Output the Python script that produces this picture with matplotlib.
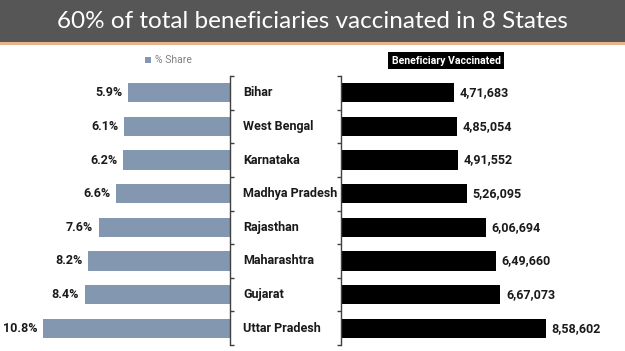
import matplotlib
matplotlib.use("Agg")
import matplotlib.pyplot as plt
from matplotlib.transforms import blended_transform_factory
from matplotlib.patches import Rectangle

states = ["Bihar", "West Bengal", "Karnataka", "Madhya Pradesh", "Rajasthan",
          "Maharashtra", "Gujarat", "Uttar Pradesh"]
share = [5.9, 6.1, 6.2, 6.6, 7.6, 8.2, 8.4, 10.8]
vaccinated = [471683, 485054, 491552, 526095, 606694, 649660, 667073, 858602]
share_labels = ["5.9%", "6.1%", "6.2%", "6.6%", "7.6%", "8.2%", "8.4%", "10.8%"]
vacc_labels = ["4,71,683", "4,85,054", "4,91,552", "5,26,095", "6,06,694",
               "6,49,660", "6,67,073", "8,58,602"]
title = "60% of total beneficiaries vaccinated in 8 States"

W, H = 625, 351
fig = plt.figure(figsize=(W / 100, H / 100), dpi=100)
fig.patch.set_facecolor("white")

LBL_FONT = "Roboto"
LBL_SIZE = 9.0

def fx(px):
    return px / W

def fy(py):
    return 1 - py / H

# Title band
fig.patches.append(Rectangle((0, fy(42)), 1, 42 / H, transform=fig.transFigure,
                             facecolor="#565656", edgecolor="none", zorder=0))
fig.patches.append(Rectangle((0, fy(45)), 1, 3 / H, transform=fig.transFigure,
                             facecolor="#E8B48C", edgecolor="none", zorder=0))
fig.text(0.5, fy(22), title, color="white", fontsize=17.5, family="Lato",
         ha="center", va="center")

top_px, bot_px = 76, 345
n = len(states)
pos = list(range(n))
bar_h = 0.57

# Left axes (% share)
lx0, lx1 = 10, 230
axL = fig.add_axes([fx(lx0), fy(bot_px), fx(lx1 - lx0), (bot_px - top_px) / H])
axL.barh(pos, share, height=bar_h, color="#8497B0")
axL.set_xlim((lx1 - lx0) / 17.3, 0)
axL.set_ylim(n - 0.5, -0.5)
for s in ["left", "top", "bottom"]:
    axL.spines[s].set_visible(False)
axL.spines["right"].set_color("#404040")
axL.spines["right"].set_linewidth(1.0)
axL.yaxis.tick_right()
axL.set_yticks([i - 0.5 for i in range(n + 1)])
axL.set_yticklabels([])
axL.tick_params(axis="y", direction="out", length=3, color="#404040", width=1.0)
axL.set_xticks([])
axL.set_facecolor("none")
for i, (v, lab) in enumerate(zip(share, share_labels)):
    axL.annotate(lab, (v, i), xytext=(-4, 0), textcoords="offset points",
                 ha="right", va="center", fontsize=LBL_SIZE, fontweight="bold",
                 family=LBL_FONT, color="#1a1a1a")

# Right axes (beneficiaries)
rx0, rx1 = 341, 620
axR = fig.add_axes([fx(rx0), fy(bot_px), fx(rx1 - rx0), (bot_px - top_px) / H])
axR.barh(pos, vaccinated, height=bar_h, color="black")
axR.set_xlim(0, (rx1 - rx0) / 2.39e-4)
axR.set_ylim(n - 0.5, -0.5)
for s in ["right", "top", "bottom"]:
    axR.spines[s].set_visible(False)
axR.spines["left"].set_color("#404040")
axR.spines["left"].set_linewidth(1.0)
axR.set_yticks([i - 0.5 for i in range(n + 1)])
axR.set_yticklabels([])
axR.tick_params(axis="y", direction="out", length=3, color="#404040", width=1.0)
axR.set_xticks([])
axR.set_facecolor("none")
for i, (v, lab) in enumerate(zip(vaccinated, vacc_labels)):
    axR.annotate(lab, (v, i), xytext=(4, 0), textcoords="offset points",
                 ha="left", va="center", fontsize=LBL_SIZE, fontweight="bold",
                 family=LBL_FONT, color="#1a1a1a")

# State names
tr = blended_transform_factory(fig.transFigure, axR.transData)
for i, st in enumerate(states):
    fig.text(fx(243), i, st, transform=tr, ha="left", va="center",
             fontsize=LBL_SIZE, fontweight="bold", family=LBL_FONT, color="#1a1a1a")

# Legends
fig.patches.append(Rectangle((fx(145), fy(63)), 6 / W, 6 / H, transform=fig.transFigure,
                             facecolor="#8497B0", edgecolor="none"))
fig.text(fx(155), fy(60), "% Share", ha="left", va="center", fontsize=7.5,
         family=LBL_FONT, color="#808080")
fig.text(fx(446), fy(60.5), "Beneficiary Vaccinated", ha="center", va="center",
         fontsize=7.6, fontweight="bold", family=LBL_FONT, color="white",
         bbox=dict(boxstyle="square,pad=0.35", facecolor="black", edgecolor="none"))

fig.savefig("out.png", dpi=100)
